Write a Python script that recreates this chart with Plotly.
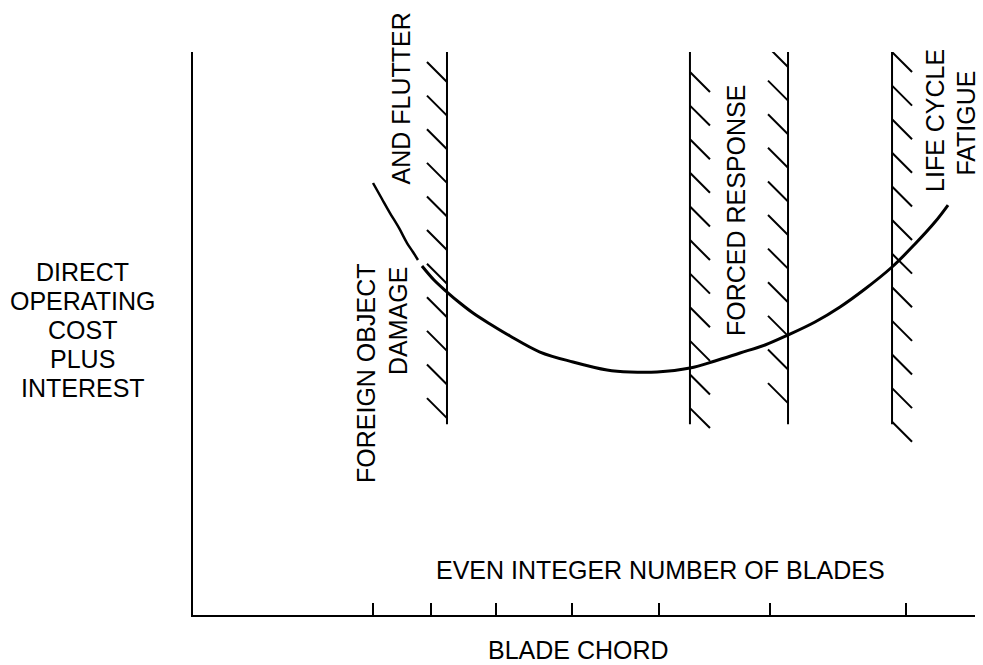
import plotly.graph_objects as go

# ---- data (arbitrary chord / cost units) ----
tick_chords = [2.30, 3.04, 3.87, 4.85, 5.96, 7.38, 9.12]   # even integer number of blades

curve1_x = [2.302, 2.417, 2.519, 2.634, 2.737, 2.813, 2.877]
curve1_y = [7.673, 7.389, 7.140, 6.874, 6.607, 6.448, 6.306]

curve2_x = [2.928, 3.082, 3.248, 3.414, 3.581, 3.798, 4.054, 4.437, 4.859, 5.294,
            5.588, 5.934, 6.355, 6.675, 6.995, 7.315, 7.609, 7.954, 8.274, 8.593,
            8.939, 9.233, 9.488, 9.655]
curve2_y = [6.199, 5.950, 5.737, 5.542, 5.364, 5.169, 4.956, 4.671, 4.494, 4.352,
            4.316, 4.316, 4.387, 4.512, 4.654, 4.796, 4.973, 5.204, 5.471, 5.790,
            6.181, 6.590, 6.980, 7.282]

limit_x = [3.248, 6.355, 7.609, 8.939]        # constraint boundaries
limit_side = [-1, 1, -1, 1]                   # side of hatching
limit_top = 10.0
limit_bottom = 3.39
hatch_first = [9.467, 9.645, 9.734, 10.0]
hatch_count = [11, 11, 11, 12]

FONT = dict(family="Liberation Sans, Arial, sans-serif", size=25, color="black")
HDX, HDY, HSTEP = 0.256, 0.355, 0.597

fig = go.Figure()

# limit lines with hatching
for xv, side, y0, n in zip(limit_x, limit_side, hatch_first, hatch_count):
    fig.add_trace(go.Scatter(x=[xv, xv], y=[limit_bottom, limit_top], mode="lines",
                             line=dict(color="black", width=2), hoverinfo="skip"))
    hx, hy = [], []
    for i in range(n):
        yy = y0 - i * HSTEP
        if side < 0:
            hx += [xv - HDX, xv, None]
            hy += [yy + HDY, yy, None]
        else:
            hx += [xv, xv + HDX, None]
            hy += [yy, yy - HDY, None]
    fig.add_trace(go.Scatter(x=hx, y=hy, mode="lines", line=dict(color="black", width=2),
                             hoverinfo="skip"))

# cost curve
fig.add_trace(go.Scatter(x=curve1_x, y=curve1_y, mode="lines",
                         line=dict(color="black", width=2.5, shape="spline")))
fig.add_trace(go.Scatter(x=curve2_x, y=curve2_y, mode="lines",
                         line=dict(color="black", width=3, shape="spline")))

def ann(text, px, py, angle=0):
    # px, py in paper fractions of the plot area
    fig.add_annotation(text=text, x=px, y=py, xref="paper", yref="paper", showarrow=False,
                       textangle=angle, font=FONT, xanchor="center", yanchor="middle")

ann("FOREIGN OBJECT", 0.2212, 0.4298, -90)
ann("DAMAGE", 0.2621, 0.5222, -90)
ann("AND FLUTTER", 0.2666, 0.9183, -90)
ann("FORCED RESPONSE", 0.6944, 0.7176, -90)
ann("LIFE CYCLE", 0.9488, 0.8792, -90)
ann("FATIGUE", 0.9880, 0.8739, -90)
ann("EVEN INTEGER NUMBER OF BLADES", 0.5972, 0.0799)
ann("BLADE CHORD", 0.4930, -0.0622)

ylabel_lines = ["DIRECT", "OPERATING", "COST", "PLUS", "INTEREST"]
ylabel_y = [0.6092, 0.5577, 0.5062, 0.4547, 0.4032]
for t, yv in zip(ylabel_lines, ylabel_y):
    ann(t, -0.1407, yv)

fig.update_layout(
    width=983, height=665,
    margin=dict(l=193, r=8, t=52, b=50, pad=0),
    paper_bgcolor="white", plot_bgcolor="white",
    showlegend=False,
    xaxis=dict(range=[0, 10], showline=True, linecolor="black", linewidth=2,
               ticks="inside", ticklen=12, tickwidth=2, tickcolor="black",
               tickvals=tick_chords, showticklabels=False,
               showgrid=False, zeroline=False, fixedrange=True),
    yaxis=dict(range=[0, 10], showline=True, linecolor="black", linewidth=2,
               ticks="", showticklabels=False, showgrid=False, zeroline=False,
               fixedrange=True),
)

fig.write_html("out.html", config={"displayModeBar": False},
               post_script="document.body.style.margin='0';document.body.style.overflow='hidden';")
